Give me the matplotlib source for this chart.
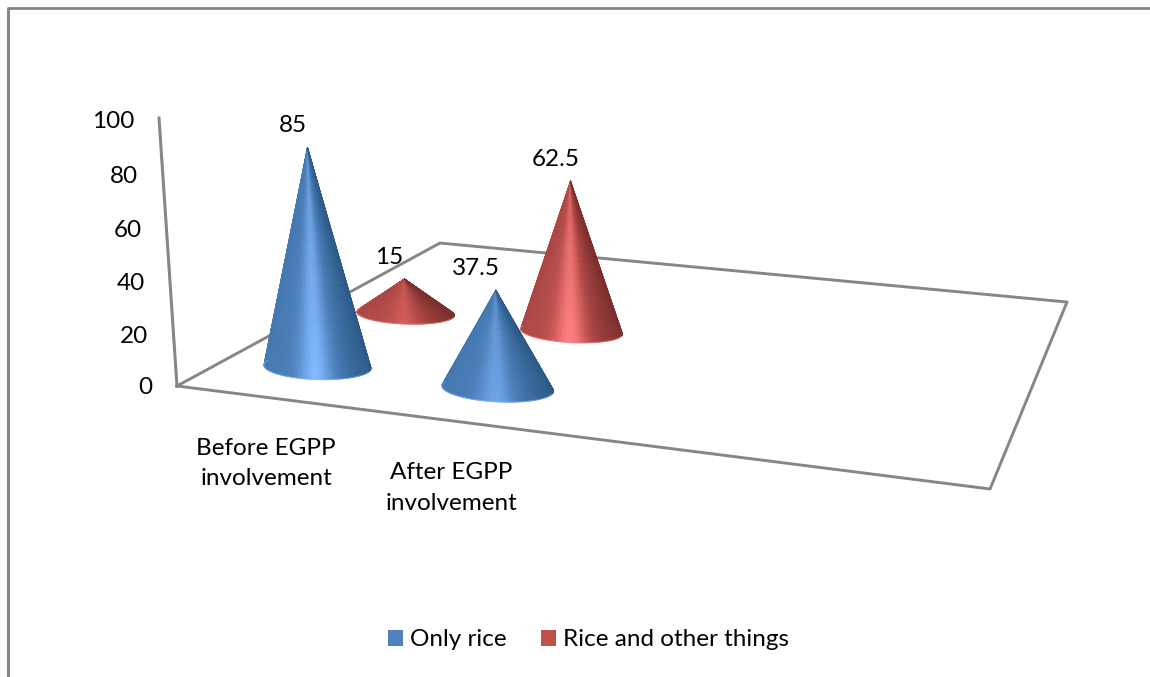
import numpy as np
import matplotlib
matplotlib.use("Agg")
import matplotlib.pyplot as plt
from matplotlib.collections import PolyCollection
from matplotlib.patches import Patch

categories = ["Before EGPP\ninvolvement", "After EGPP\ninvolvement"]
series_names = ["Only rice", "Rice and other things"]
only_rice = [85, 37.5]
rice_other = [15, 62.5]
y_ticks = [0, 20, 40, 60, 80, 100]

plt.rcParams['font.family'] = ['Lato', 'DejaVu Sans']
FS = 17.5

# slots on the chart floor: room for 4 categories, 3 series deep
n_cat_slots = 4
n_depth_slots = 3
radius_u = 0.072
radius_v = 0.065

# projection of the floor (u, v) and height z into the canvas
px = [678.0, 400.9, -0.2436, 177.0]
py = [36.3, -66.8, -2.727, 386.0]
pw = [-0.1364, 0.3134, -0.0004, 1.0]


def project(u, v, z=0.0):
    w = pw[0]*u + pw[1]*v + pw[2]*z + pw[3]
    x = (px[0]*u + px[1]*v + px[2]*z + px[3]) / w
    y = (py[0]*u + py[1]*v + py[2]*z + py[3]) / w
    return x, y


def hex_rgb(c):
    return np.array(matplotlib.colors.to_rgb(c))


ramps = {
    0: (["#4478b0", "#4f81bd", "#3f71a8", "#2c5a88"], "#80b9ff"),
    1: (["#aa4745", "#c0504d", "#a03f3d", "#7a2f2e"], "#ff7f7f"),
}


def shade(series, s, f, strength):
    stops, hi = ramps[series]
    stops = np.array([hex_rgb(c) for c in stops])
    base = np.array([np.interp(s, [-1, 0, 0.5, 1], stops[:, k]) for k in range(3)])
    glow = np.exp(-((s + 0.03) / 0.3)**2) * strength * (1 - 0.6*f)
    return base + glow * (hex_rgb(hi) - base)


def draw_cone(ax, u0, v0, height, series):
    ts = np.linspace(0, 2*np.pi, 121)
    fs = np.linspace(0, 1, 21)
    bx, by = project(u0 + radius_u*np.cos(ts), v0 + radius_v*np.sin(ts))
    ax_, ay_ = project(u0, v0, height)
    cx = (bx.max() + bx.min()) / 2
    half = (bx.max() - bx.min()) / 2
    strength = min(1.0, height / 60.0)
    polys, cols = [], []
    for i in range(len(ts)-1):
        # only the wedges facing the viewer get drawn
        area = (bx[i]-ax_)*(by[i+1]-ay_) - (bx[i+1]-ax_)*(by[i]-ay_)
        if area >= 0:
            continue
        t0, t1 = ts[i], ts[i+1]
        s = ((bx[i] + bx[i+1]) / 2 - cx) / half
        for j in range(len(fs)-1):
            f0, f1 = fs[j], fs[j+1]
            corners = [(t0, f0), (t1, f0), (t1, f1), (t0, f1)]
            polys.append([project(u0 + radius_u*(1-f)*np.cos(t), v0 + radius_v*(1-f)*np.sin(t), height*f)
                          for t, f in corners])
            cols.append(np.clip(shade(series, s, (f0+f1)/2, strength), 0, 1))
    ax.add_collection(PolyCollection(polys, facecolors=cols, edgecolors=cols, linewidths=0.5, zorder=3))
    # pale rim along the front of the base
    front = np.linspace(np.pi, 2*np.pi, 60)
    rx, ry = project(u0 + radius_u*np.cos(front), v0 + radius_v*np.sin(front))
    ax.plot(rx, ry, color=ramps[series][1], lw=0.9, alpha=0.55, zorder=4)


fig = plt.figure(figsize=(11.5, 6.77), dpi=100, facecolor="white")
ax = fig.add_axes([0, 0, 1, 1])
ax.set_xlim(0, 1150)
ax.set_ylim(677, 0)
ax.axis("off")

# chart frame, open on the right and at the bottom
ax.plot([8, 8], [677, 7.5], color="#868686", lw=2.2, solid_capstyle="butt")
ax.plot([7, 1150], [7.5, 7.5], color="#868686", lw=2.0, solid_capstyle="butt")

# floor and value wall
floor = [project(0, 0), project(1, 0), project(1, 1), project(0, 1), project(0, 0)]
ax.plot([p[0] for p in floor], [p[1] for p in floor], color="#868686", lw=2.1, zorder=1)
wall = [project(0, 0), project(0, 0, y_ticks[-1])]
ax.plot([p[0] for p in wall], [p[1] for p in wall], color="#868686", lw=2.2, zorder=1)

for t in y_ticks:
    x, y = project(0, 0, t)
    ax.text(x - 25, y + 2 + t/100.0, str(t), ha="right", va="center", fontsize=FS, color="black")

# far row first, then the near row
label_nudge = {37.5: -5}
for series in [1, 0]:
    values = [only_rice, rice_other][series]
    for i, val in enumerate(values):
        u0 = (i + 0.5) / n_cat_slots
        v0 = (series + 0.5) / n_depth_slots
        draw_cone(ax, u0, v0, val, series)
        x, y = project(u0, v0, val)
        ax.text(x - 15 + label_nudge.get(val, 0), y - 21.5, str(val), ha="center", va="center",
                fontsize=FS, color="black", zorder=5)

for i, name in enumerate(categories):
    x, _ = project((i + 0.5) / n_cat_slots, 0)
    ax.text(x - 3*i, 463.5 + 24.5*i, name, ha="center", va="center", fontsize=FS, color="black",
            linespacing=1.55, zorder=5)

handles = [Patch(facecolor="#4f81bd", edgecolor="none"), Patch(facecolor="#c0504d", edgecolor="none")]
ax.legend(handles, series_names, loc="center", bbox_to_anchor=(588.5, 640), bbox_transform=ax.transData,
          ncol=2, frameon=False, fontsize=FS, handlelength=0.62, handleheight=0.62,
          handletextpad=0.29, columnspacing=1.4, borderpad=0, borderaxespad=0)

fig.savefig("out.png", dpi=100)
